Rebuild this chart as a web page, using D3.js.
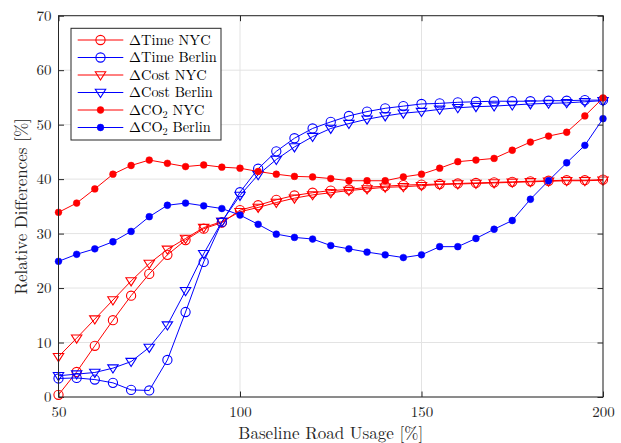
<!DOCTYPE html>
<html>
<head>
<meta charset="utf-8">
<script src="https://cdn.jsdelivr.net/npm/d3@7/dist/d3.min.js"></script>
<style>
  html, body { margin: 0; padding: 0; background: #fff; }
  svg { display: block; }
</style>
</head>
<body>
<svg id="chart" width="621" height="443"></svg>
<script>
// ---------- data ----------
const usage = [50,55,60,65,70,75,80,85,90,95,100,105,110,115,120,125,130,135,140,145,150,155,160,165,170,175,180,185,190,195,200];

const timeNYC    = [0.4,4.6,9.4,14.1,18.6,22.6,26.1,28.8,30.9,32.0,34.3,35.2,36.2,37.0,37.5,37.9,38.1,38.5,38.7,38.9,39.0,39.1,39.2,39.3,39.4,39.5,39.6,39.7,39.8,39.8,39.9];
const timeBerlin = [3.4,3.5,3.2,2.6,1.3,1.2,6.8,15.6,24.8,32.1,37.6,41.9,45.1,47.5,49.3,50.5,51.6,52.4,53.0,53.4,53.8,53.9,54.1,54.2,54.3,54.3,54.3,54.4,54.4,54.5,54.5];
const costNYC    = [7.4,10.8,14.3,17.8,21.3,24.5,27.1,29.1,31.1,32.2,34.0,34.8,35.7,36.5,37.1,37.5,37.9,38.2,38.5,38.6,38.8,39.0,39.1,39.2,39.3,39.4,39.5,39.6,39.7,39.7,39.8];
const costBerlin = [3.9,4.2,4.5,5.3,6.5,9.1,13.2,19.5,26.3,32.2,37.0,40.8,43.6,45.9,47.8,49.3,50.2,51.0,51.6,52.1,52.4,52.8,53.1,53.3,53.4,53.6,53.8,53.9,54.0,54.2,54.4];
const co2NYC     = [33.9,35.6,38.2,40.9,42.5,43.5,42.9,42.3,42.6,42.2,42.0,41.4,40.9,40.5,40.4,40.1,39.7,39.7,39.7,40.4,40.9,42.0,43.2,43.5,43.8,45.3,46.8,47.9,48.6,51.6,54.9];
const co2Berlin  = [24.9,26.2,27.2,28.5,30.4,33.1,35.2,35.6,35.1,34.6,33.4,31.7,29.9,29.3,29.0,27.8,27.2,26.6,26.1,25.6,26.1,27.6,27.6,29.1,30.8,32.4,36.3,39.7,43.0,46.2,51.1];

const xTicks = [50,100,150,200];
const yTicks = [0,10,20,30,40,50,60,70];

const seriesNames = ["\u0394Time NYC","\u0394Time Berlin","\u0394Cost NYC","\u0394Cost Berlin","\u0394CO2 NYC","\u0394CO2 Berlin"];
const seriesData  = [timeNYC, timeBerlin, costNYC, costBerlin, co2NYC, co2Berlin];
const seriesColor = ["#ff0000","#0000ff","#ff0000","#0000ff","#ff0000","#0000ff"];
const seriesMarker= ["circle","circle","triangle","triangle","dot","dot"];

// ---------- layout ----------
const FONT = '"Latin Modern Roman", "Liberation Serif", serif';
const svg = d3.select("#chart");
const L = 58.5, R = 603, T = 15.7, B = 397;
const x = d3.scaleLinear().domain([50,200]).range([L,R]);
const y = d3.scaleLinear().domain([0,70]).range([B,T]);
const axisColor = "#262626";

// grid
const g = svg.append("g");
g.selectAll(".gx").data(xTicks).enter().append("line")
  .attr("x1", d=>x(d)).attr("x2", d=>x(d)).attr("y1", T).attr("y2", B)
  .attr("stroke", "#e3e3e3").attr("stroke-width", 1);
g.selectAll(".gy").data(yTicks).enter().append("line")
  .attr("y1", d=>y(d)).attr("y2", d=>y(d)).attr("x1", L).attr("x2", R)
  .attr("stroke", "#e3e3e3").attr("stroke-width", 1);

// axes with inward ticks
const tickLen = 5.5;
const axB = svg.append("g").attr("transform", `translate(0,${B})`)
  .call(d3.axisBottom(x).tickValues(xTicks).tickSizeInner(-tickLen).tickSizeOuter(0).tickPadding(9));
const axT = svg.append("g").attr("transform", `translate(0,${T})`)
  .call(d3.axisTop(x).tickValues(xTicks).tickSizeInner(-tickLen).tickSizeOuter(0).tickFormat(""));
const axL = svg.append("g").attr("transform", `translate(${L},0)`)
  .call(d3.axisLeft(y).tickValues(yTicks).tickSizeInner(-tickLen).tickSizeOuter(0).tickPadding(7));
const axR = svg.append("g").attr("transform", `translate(${R},0)`)
  .call(d3.axisRight(y).tickValues(yTicks).tickSizeInner(-tickLen).tickSizeOuter(0).tickFormat(""));
[axB, axT, axL, axR].forEach(a => {
  a.attr("font-family", null).attr("font-size", null);
  a.select(".domain").remove();
  a.selectAll("line").attr("stroke", axisColor).attr("stroke-width", 1);
  a.selectAll("text").style("font-family", FONT).style("font-size", "15px").attr("fill", axisColor);
});

// clip for data
svg.append("clipPath").attr("id","clip").append("rect")
  .attr("x", L-10).attr("y", T-10).attr("width", R-L+20).attr("height", B-T+20);

const line = d3.line().x((d,i)=>x(usage[i])).y(d=>y(d));
const triPath = (cx, cy, s) => `M${cx-s},${cy-s*0.62}L${cx+s},${cy-s*0.62}L${cx},${cy+s*0.95}Z`;

function drawMarker(sel, type, color, cx, cy) {
  if (type === "circle") {
    sel.append("circle").attr("cx", cx).attr("cy", cy).attr("r", 4.6)
      .attr("fill", "none").attr("stroke", color).attr("stroke-width", 1.1);
  } else if (type === "triangle") {
    sel.append("path").attr("d", triPath(cx, cy, 5.2))
      .attr("fill", "none").attr("stroke", color).attr("stroke-width", 1.1);
  } else {
    sel.append("circle").attr("cx", cx).attr("cy", cy).attr("r", 3.4)
      .attr("fill", color).attr("stroke", color).attr("stroke-width", 0.5);
  }
}

const dataG = svg.append("g").attr("clip-path", "url(#clip)");
seriesData.forEach((arr, k) => {
  const sg = dataG.append("g");
  sg.append("path").datum(arr).attr("d", line)
    .attr("fill", "none").attr("stroke", seriesColor[k]).attr("stroke-width", 1);
  arr.forEach((v, i) => drawMarker(sg, seriesMarker[k], seriesColor[k], x(usage[i]), y(v)));
});

// frame
svg.append("rect").attr("x", L).attr("y", T).attr("width", R-L).attr("height", B-T)
  .attr("fill", "none").attr("stroke", axisColor).attr("stroke-width", 1);

// axis labels
svg.append("text").attr("x", (L+R)/2).attr("y", 439).attr("text-anchor", "middle")
  .style("font-family", FONT).style("font-size", "17px").attr("fill", axisColor)
  .text("Baseline Road Usage [%]");
svg.append("text").attr("transform", `translate(26.5,${(T+B)/2}) rotate(-90)`).attr("text-anchor", "middle")
  .style("font-family", FONT).style("font-size", "17px").attr("fill", axisColor)
  .text("Relative Differences [%]");

// legend
const lg = svg.append("g");
lg.append("rect").attr("x", 71).attr("y", 28.3).attr("width", 150).attr("height", 111.7)
  .attr("fill", "#fff").attr("stroke", axisColor).attr("stroke-width", 1);
const rowY0 = 40, rowDy = 17.5;
seriesNames.forEach((name, k) => {
  const yy = rowY0 + k*rowDy;
  lg.append("line").attr("x1", 77.7).attr("x2", 123.3).attr("y1", yy).attr("y2", yy)
    .attr("stroke", seriesColor[k]).attr("stroke-width", 1);
  drawMarker(lg, seriesMarker[k], seriesColor[k], 100.5, yy);
  const t = lg.append("text").attr("x", 129).attr("y", yy + 4.9)
    .style("font-family", FONT).style("font-size", "14.4px").attr("fill", "#000");
  if (name.indexOf("CO2") >= 0) {
    const parts = name.split("CO2");
    t.append("tspan").text(parts[0] + "CO");
    t.append("tspan").attr("dy", 3).style("font-size", "10.2px").text("2");
    t.append("tspan").attr("dy", -3).text(parts[1]);
  } else {
    t.text(name);
  }
});
</script>
</body>
</html>
